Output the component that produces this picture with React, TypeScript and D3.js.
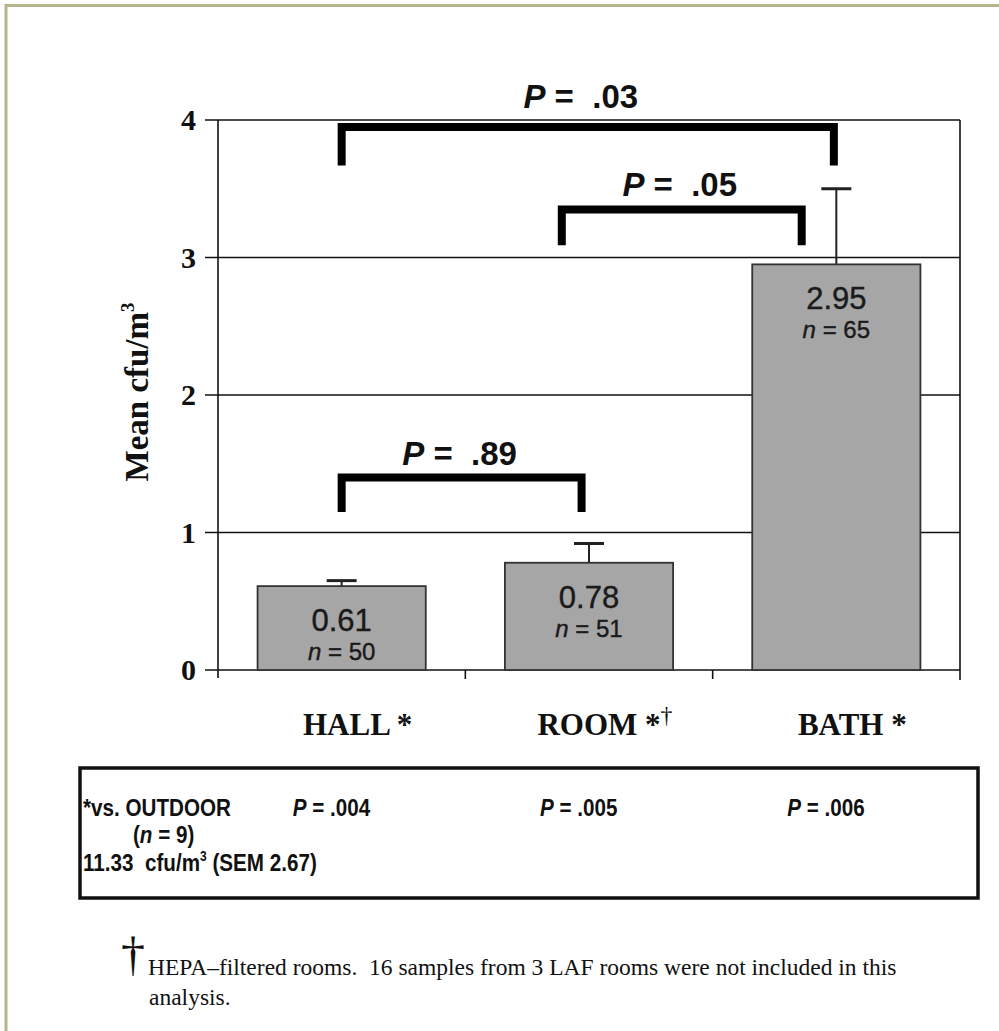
import React from "react";
import * as d3 from "d3";

// data
const categories = ["HALL", "ROOM", "BATH"];
const categoryLabels = ["HALL *", "ROOM *", "BATH *"];
const means = [0.61, 0.78, 2.95];
const sem = [0.04, 0.14, 0.55];
const nValues = [50, 51, 65];
const yTicks = [0, 1, 2, 3, 4];

// significance brackets: categories joined, level of bar (data units), drop, x nudge (band fraction)
const bracketFrom = ["HALL", "ROOM", "HALL"];
const bracketTo = ["BATH", "BATH", "ROOM"];
const bracketTop = [3.95, 3.35, 1.4];
const bracketBottom = [3.67, 3.09, 1.15];
const bracketNudgeFrom = [0, -0.11, 0];
const bracketNudgeTo = [-0.01, -0.14, -0.03];
const bracketP = [".03", ".05", ".89"];

const outdoorP = [".004", ".005", ".006"];

const W = 999;
const H = 1031;
const margin = { left: 218, right: 39, top: 120, bottom: 361 };

const sans = "'Liberation Sans', Arial, sans-serif";
const serif = "'Liberation Serif', 'Times New Roman', serif";

// condensed bold sans for the box (Arial Narrow look)
const Narrow = ({ x, y, children }: { x: number; y: number; children: React.ReactNode }) => (
  <text
    transform={`translate(${x},${y}) scale(0.86,1)`}
    fontFamily={sans}
    fontWeight="bold"
    fontSize={24}
    fill="#111"
    xmlSpace="preserve"
  >
    {children}
  </text>
);

export default function App() {
  const x = d3
    .scaleBand()
    .domain(categories)
    .range([margin.left, W - margin.right])
    .paddingInner(0.32)
    .paddingOuter(0.16);
  const y = d3
    .scaleLinear()
    .domain([0, 4])
    .range([H - margin.bottom, margin.top]);

  const step = x.step();
  const x0 = margin.left;
  const x1 = W - margin.right;
  const center = (c: string) => (x(c) as number) + x.bandwidth() / 2;
  // band boundaries for the x ticks
  const boundaries = d3.range(categories.length + 1).map((i) => x0 + i * step);

  return (
    <svg
      width={W}
      height={H}
      style={{ position: "absolute", left: 0, top: 0, background: "#fff" }}
    >
      {/* outer frame */}
      <rect x={6} y={5.5} width={W + 10} height={H + 10} fill="none" stroke="#b7b38c" strokeWidth={3} />

      {/* gridlines */}
      {yTicks.map((t) => (
        <line key={"g" + t} x1={x0 - 13} x2={x1} y1={y(t)} y2={y(t)} stroke="#111" strokeWidth={1.6} />
      ))}
      {/* axes */}
      <line x1={x0} x2={x0} y1={y(4)} y2={y(0) + 8} stroke="#111" strokeWidth={1.6} />
      <line x1={x1} x2={x1} y1={y(4)} y2={y(0) + 10} stroke="#111" strokeWidth={1.6} />
      {boundaries.slice(1, -1).map((b, i) => (
        <line key={"xt" + i} x1={b} x2={b} y1={y(0)} y2={y(0) + 9} stroke="#111" strokeWidth={1.6} />
      ))}
      {yTicks.map((t) => (
        <text
          key={"yl" + t}
          x={x0 - 22}
          y={y(t) + 10}
          textAnchor="end"
          fontFamily={serif}
          fontWeight="bold"
          fontSize={30}
          fill="#111"
        >
          {t}
        </text>
      ))}
      <text
        transform={`translate(148, ${(y(0) + y(4)) / 2 - 3}) rotate(-90)`}
        textAnchor="middle"
        fontFamily={serif}
        fontWeight="bold"
        fontSize={33}
        fill="#111"
      >
        Mean cfu/m<tspan fontSize={19} dy={-14}>3</tspan>
      </text>

      {/* bars */}
      {categories.map((c, i) => (
        <g key={c}>
          <line
            x1={center(c)}
            x2={center(c)}
            y1={y(means[i])}
            y2={y(means[i] + sem[i])}
            stroke="#222"
            strokeWidth={2}
          />
          <line
            x1={center(c) - 15}
            x2={center(c) + 15}
            y1={y(means[i] + sem[i])}
            y2={y(means[i] + sem[i])}
            stroke="#222"
            strokeWidth={3}
          />
          <rect
            x={x(c)}
            y={y(means[i])}
            width={x.bandwidth()}
            height={y(0) - y(means[i])}
            fill="#a6a6a6"
            stroke="#333"
            strokeWidth={1.8}
          />
          <text
            x={center(c)}
            y={y(means[i]) + 45}
            textAnchor="middle"
            fontFamily={sans}
            fontSize={31}
            fill="#1a1a1a"
            stroke="#1a1a1a"
            strokeWidth={0.4}
          >
            {means[i].toFixed(2)}
          </text>
          <text
            x={center(c)}
            y={y(means[i]) + 74}
            textAnchor="middle"
            fontFamily={sans}
            fontSize={24}
            fill="#1a1a1a"
            stroke="#1a1a1a"
            strokeWidth={0.4}
            xmlSpace="preserve"
          >
            <tspan fontStyle="italic">n</tspan>{" = "}{nValues[i]}
          </text>
          <text
            x={center(c) + 16}
            y={735}
            textAnchor="middle"
            fontFamily={serif}
            fontWeight="bold"
            fontSize={31}
            fill="#111"
          >
            {categoryLabels[i]}
            {c === "ROOM" && (
              <tspan fontSize={24} dy={-12} fontWeight="normal">
                †
              </tspan>
            )}
          </text>
        </g>
      ))}

      {/* significance brackets */}
      {bracketP.map((p, i) => {
        const a = center(bracketFrom[i]) + bracketNudgeFrom[i] * step;
        const b = center(bracketTo[i]) + bracketNudgeTo[i] * step;
        const top = y(bracketTop[i]);
        const bot = y(bracketBottom[i]);
        return (
          <g key={"br" + i}>
            <path
              d={`M${a},${bot}V${top}H${b}V${bot}`}
              fill="none"
              stroke="#000"
              strokeWidth={8}
              strokeLinejoin="miter"
            />
            <text
              x={(a + b) / 2 - (i === 0 ? 7 : 2)}
              y={top - 13 - (i === 0 ? 6 : 0)}
              textAnchor="middle"
              fontFamily={sans}
              fontWeight="bold"
              fontSize={33}
              fill="#111"
              xmlSpace="preserve"
            >
              <tspan fontStyle="italic">P</tspan>{" =  "}{p}
            </text>
          </g>
        );
      })}

      {/* outdoor comparison box */}
      <rect x={80} y={768} width={898} height={130} fill="none" stroke="#111" strokeWidth={3.5} />
      <Narrow x={83} y={816}>*vs. OUTDOOR</Narrow>
      <Narrow x={133} y={843}>
        (<tspan fontStyle="italic">n</tspan>{" = 9)"}
      </Narrow>
      <Narrow x={83} y={871}>
        {"11.33  cfu/m"}
        <tspan fontSize={14} dy={-10}>3</tspan>
        <tspan dy={10}>{" (SEM 2.67)"}</tspan>
      </Narrow>
      {categories.map((c, i) => (
        <Narrow key={"op" + c} x={center(c) - 49} y={816}>
          <tspan fontStyle="italic">P</tspan>
          {" = " + outdoorP[i]}
        </Narrow>
      ))}

      {/* footnote */}
      <text x={145} y={970} textAnchor="end" fontFamily={serif} fontSize={48} fill="#111">
        †
      </text>
      <text x={148} y={975} fontFamily={serif} fontSize={23.5} fill="#111" xmlSpace="preserve">
        HEPA–filtered rooms.  16 samples from 3 LAF rooms were not included in this
      </text>
      <text x={149} y={1005} fontFamily={serif} fontSize={23.5} fill="#111">
        analysis.
      </text>
    </svg>
  );
}
